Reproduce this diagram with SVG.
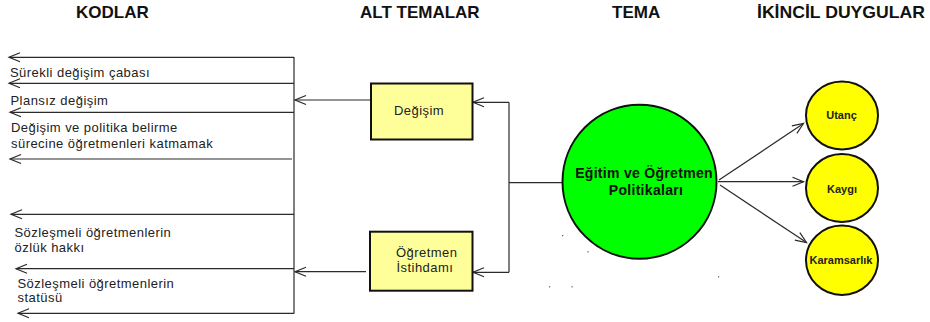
<svg xmlns="http://www.w3.org/2000/svg" width="930" height="322" viewBox="0 0 930 322">
  <style>
    .hdr { font-family: "Liberation Sans", Arial, sans-serif; font-size: 17px; font-weight: bold; fill: #111; }
    .code { font-family: "Liberation Sans", Arial, sans-serif; font-size: 13px; letter-spacing: 0.45px; fill: #222; }
    .box { fill: #FFFF99; stroke: #111; stroke-width: 2; }
    .boxtxt { font-family: "Liberation Sans", Arial, sans-serif; font-size: 13px; letter-spacing: 0.45px; fill: #222; }
    .theme { fill: #00FF00; stroke: #111; stroke-width: 2; }
    .themetxt { font-family: "Liberation Sans", Arial, sans-serif; font-size: 14px; font-weight: bold; letter-spacing: 0.3px; fill: #111; text-anchor: middle; }
    .emo { fill: #FFFF00; stroke: #111; stroke-width: 2; }
    .emotxt { font-family: "Liberation Sans", Arial, sans-serif; font-size: 11px; font-weight: bold; fill: #222; text-anchor: middle; }
    .wire { fill: none; stroke: #2a2a2a; stroke-width: 1.2; }
    .arrow { fill: none; stroke: #2a2a2a; stroke-width: 1.2; marker-end: url(#vhead); }
    .speck { fill: #555; }
  </style>
  <defs>
    <marker id="vhead" markerUnits="userSpaceOnUse" markerWidth="14" markerHeight="12" refX="11" refY="6" orient="auto" overflow="visible">
      <path d="M0,1.5 L11,6 L0,10.5" fill="none" stroke="#2a2a2a" stroke-width="1.2"/>
    </marker>
  </defs>

  <rect width="930" height="322" fill="#fff"/>

  <!-- column headings -->
  <g id="headings">
    <text class="hdr" x="76" y="18">KODLAR</text>
    <text class="hdr" x="360" y="18">ALT TEMALAR</text>
    <text class="hdr" x="612" y="18">TEMA</text>
    <text class="hdr" x="757" y="18" textLength="168" lengthAdjust="spacingAndGlyphs">İKİNCİL DUYGULAR</text>
  </g>

  <!-- connectors -->
  <g id="connectors">
    <!-- code spine -->
    <line class="wire" x1="294" y1="57" x2="294" y2="313.5"/>
    <line class="arrow" x1="294" y1="57.3" x2="9" y2="57.3"/>
    <line class="arrow" x1="294" y1="83.3" x2="9" y2="83.3"/>
    <line class="arrow" x1="294" y1="112.3" x2="10" y2="112.3"/>
    <line class="arrow" x1="292" y1="159" x2="10" y2="159"/>
    <line class="arrow" x1="294" y1="214.3" x2="11" y2="214.3"/>
    <line class="arrow" x1="294" y1="268.7" x2="16" y2="268.7"/>
    <line class="arrow" x1="294" y1="313.3" x2="18" y2="313.3"/>
    <!-- sub-theme boxes to code spine -->
    <line class="arrow" x1="371" y1="100" x2="295" y2="100"/>
    <line class="arrow" x1="366" y1="271.7" x2="295" y2="271.7"/>
    <!-- theme bracket to sub-themes -->
    <line class="wire" x1="509" y1="102.3" x2="509" y2="272.3"/>
    <line class="wire" x1="509" y1="182.7" x2="562" y2="182.7"/>
    <line class="arrow" x1="509" y1="102.3" x2="473" y2="102.3"/>
    <line class="arrow" x1="509" y1="272.3" x2="473" y2="272.3"/>
    <!-- theme to secondary emotions -->
    <line class="arrow" x1="719" y1="180" x2="803.5" y2="123.5"/>
    <line class="arrow" x1="718" y1="181.7" x2="803.5" y2="181.7"/>
    <line class="arrow" x1="720" y1="185" x2="806.5" y2="242.5"/>
  </g>

  <!-- codes -->
  <g id="codes">
    <text class="code" x="10" y="77.3">Sürekli değişim çabası</text>
    <text class="code" x="10.5" y="105">Plansız değişim</text>
    <text class="code" x="11" y="131.7">Değişim ve politika belirme</text>
    <text class="code" x="11" y="147.7">sürecine öğretmenleri katmamak</text>
    <text class="code" x="14.5" y="236.7">Sözleşmeli öğretmenlerin</text>
    <text class="code" x="14.5" y="251.7">özlük hakkı</text>
    <text class="code" x="17.5" y="288.3">Sözleşmeli öğretmenlerin</text>
    <text class="code" x="17.5" y="302.3">statüsü</text>
  </g>

  <!-- sub-themes -->
  <g id="node-degisim">
    <rect class="box" x="371" y="83.5" width="101.5" height="56"/>
    <text class="boxtxt" x="394" y="115">Değişim</text>
  </g>
  <g id="node-istihdam">
    <rect class="box" x="370" y="231.7" width="102.5" height="59"/>
    <text class="boxtxt" x="396" y="256.7">Öğretmen</text>
    <text class="boxtxt" x="396.5" y="272.3">İstihdamı</text>
  </g>

  <!-- main theme -->
  <g id="node-tema">
    <circle class="theme" cx="639.5" cy="181.7" r="77"/>
    <text class="themetxt" x="644" y="177.5">Eğitim ve Öğretmen</text>
    <text class="themetxt" x="646" y="195">Politikaları</text>
  </g>

  <!-- secondary emotions -->
  <g id="node-utanc">
    <ellipse class="emo" cx="842" cy="115.5" rx="36" ry="34"/>
    <text class="emotxt" x="841.5" y="118.5">Utanç</text>
  </g>
  <g id="node-kaygi">
    <ellipse class="emo" cx="842" cy="188" rx="36" ry="34"/>
    <text class="emotxt" x="842" y="192.5">Kaygı</text>
  </g>
  <g id="node-karamsarlik">
    <ellipse class="emo" cx="842" cy="260.3" rx="36" ry="34.7"/>
    <text class="emotxt" x="841" y="263.5">Karamsarlık</text>
  </g>

  <!-- stray ink specks -->
  <g id="specks">
    <rect class="speck" x="562" y="235" width="1.2" height="1.2"/>
    <rect class="speck" x="587.5" y="251.2" width="1.2" height="1.2"/>
    <rect class="speck" x="718" y="276.2" width="1.2" height="1.2"/>
    <rect class="speck" x="549" y="286.2" width="1.2" height="1.2"/>
    <rect class="speck" x="571.5" y="286.2" width="1.2" height="1.2"/>
  </g>
</svg>
